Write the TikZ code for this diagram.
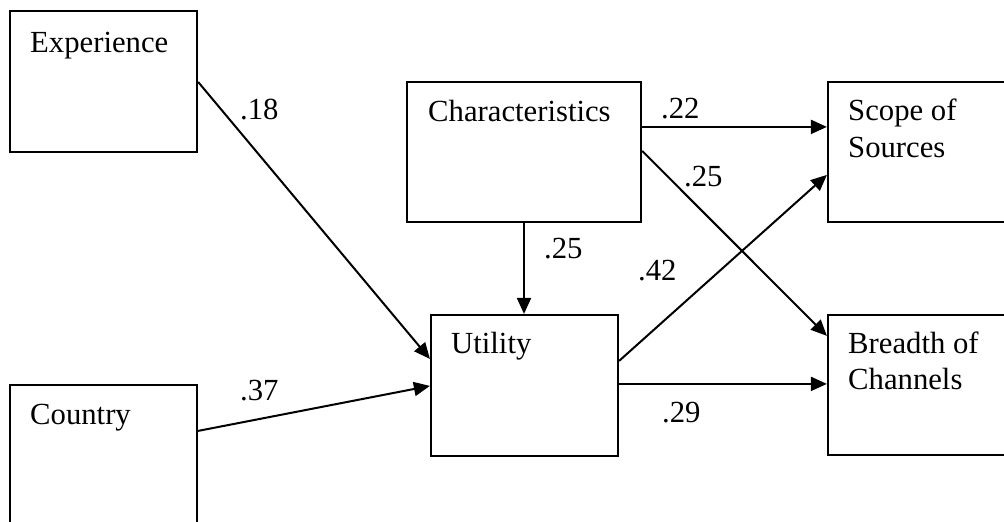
\documentclass[tikz,border=0pt]{standalone}
\usepackage{fontspec}
\setmainfont{Liberation Serif}
\usetikzlibrary{arrows.meta,calc}
\tikzset{
  box/.style={draw=black, line width=2.2pt, rectangle, inner sep=0pt, fill=none},
  lbl/.style={anchor=base west, inner sep=0pt, font=\fontsize{30.7}{37}\selectfont},
  conn/.style={line width=2pt, -{Triangle[length=16pt,width=14pt]}},
}
\begin{document}
\begin{tikzpicture}[x=1pt,y=-1pt]
\useasboundingbox (0,0) rectangle (1004,522);
\fill[white] (0,0) rectangle (1004,522);
% boxes
\node[box, minimum width=187pt, minimum height=141pt] (exp) at (103.5,81.5) {};
\node[box, minimum width=187pt, minimum height=141pt] (cty) at (103.5,455.5) {};
\node[box, minimum width=234pt, minimum height=140pt] (chr) at (524,152) {};
\node[box, minimum width=187pt, minimum height=141pt] (utl) at (524.5,385.5) {};
\node[box, minimum width=187pt, minimum height=140pt] (scp) at (921.5,152) {};
\node[box, minimum width=187pt, minimum height=140pt] (brd) at (921.5,385) {};
% box texts
\node[lbl] (texp) at (30,52) {Experience};
\node[lbl] (tcty) at (30,424) {Country};
\node[lbl] (tchr) at (428,121) {Characteristics};
\node[lbl] (tutl) at (451,353) {Utility};
\node[lbl] (tscp1) at (848,120) {Scope of};
\node[lbl] (tscp2) at (848,157) {Sources};
\node[lbl] (tbrd1) at (848,353) {Breadth of};
\node[lbl] (tbrd2) at (848,389) {Channels};
% connection points
\coordinate (e1) at ($(exp.north east)+(0,72)$);
\coordinate (u1) at ($(utl.north west)+(0,45)$);
\coordinate (c1) at ($(cty.north west -| cty.east)+(0,47)$);
\coordinate (u2) at ($(utl.north west)+(0,72)$);
\coordinate (h1) at ($(chr.north east)+(0,46)$);
\coordinate (s1) at ($(scp.north west)+(0,46)$);
\coordinate (h2) at ($(chr.north east)+(0,70)$);
\coordinate (b1) at ($(brd.north west)+(0,22)$);
\coordinate (u3) at ($(utl.north east)+(0,47)$);
\coordinate (s2) at ($(scp.north west)+(0,94)$);
\coordinate (u4) at ($(utl.north east)+(0,70)$);
\coordinate (b2) at ($(brd.north west)+(0,70)$);
% connectors
\draw[conn] (e1) -- (u1);
\draw[conn] (c1) -- (u2);
\draw[conn] (chr.south) -- (utl.north -| chr.south);
\draw[conn] (h1) -- (s1);
\draw[conn] (h2) -- (b1);
\draw[conn] (u3) -- (s2);
\draw[conn] (u4) -- (b2);
% path labels
\node[lbl] (l18) at (240,119) {.18};
\node[lbl] (l37) at (240,400) {.37};
\node[lbl] (l25a) at (544,258) {.25};
\node[lbl] (l22) at (661,118) {.22};
\node[lbl] (l25b) at (684,186) {.25};
\node[lbl] (l42) at (638,280) {.42};
\node[lbl] (l29) at (662,422) {.29};
\end{tikzpicture}
\end{document}
